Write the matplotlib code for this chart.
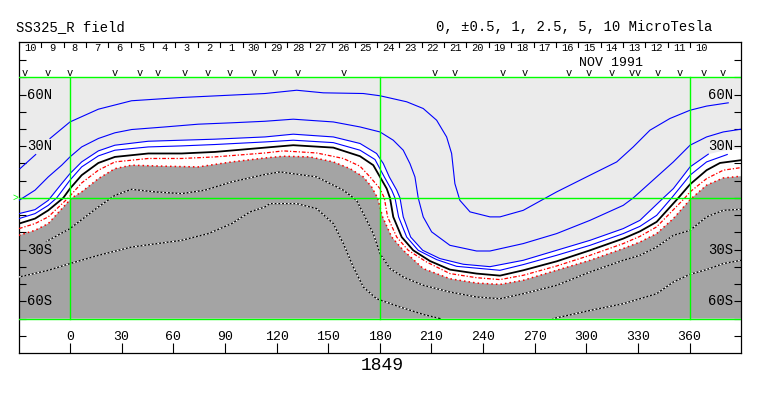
import numpy as np
import matplotlib.pyplot as plt

plt.rcParams['font.family'] = ['Liberation Mono', 'DejaVu Sans Mono']

# source surface field map, Carrington rotation 1849
# each contour: longitude / latitude points
p5a_lon = [-29.0, -19.9]
p5a_lat = [17.0, 25.2]
p5_lon = [-11.6, 0, 16.5, 35.8, 64.9, 113.3, 131.7, 147.2, 170.4, 180.1, 195.6, 205.2, 213.0,
          218.8, 221.7, 223.6, 226.5, 232.4, 244.0, 249.8, 263.3, 282.7, 302.1, 317.6, 327.2,
          336.9, 348.5, 360.2, 369.8, 382.4]
p5_lat = [34.5, 44.1, 51.5, 56.4, 58.3, 60.6, 62.5, 61.0, 60.6, 59.3, 55.8, 51.9, 45.1,
          35.4, 25.8, 8.3, -1.4, -8.1, -11.0, -11.0, -7.2, 3.5, 13.2, 20.9, 29.6,
          39.3, 46.1, 50.9, 53.3, 55.2]

p25_lon = [-29.6, -20.3, -12.6, -4.8, 0, 6.8, 16.5, 26.1, 35.8, 55.2, 74.5, 93.9, 113.3, 129.7,
           153.0, 168.5, 180.1, 187.8, 193.6, 197.5, 200.4, 202.3, 205.2, 210.1, 220.7, 236.2,
           244.0, 263.3, 282.7, 302.1, 321.4, 327.2, 340.8, 350.5, 360.2, 369.8, 379.5, 389.8]
p25_lat = [-1.4, 4.5, 12.2, 19.0, 23.8, 29.6, 34.5, 37.8, 39.7, 41.2, 42.8, 43.6, 44.5, 45.7,
           44.1, 41.2, 38.3, 33.5, 27.7, 19.9, 12.2, 0, -11.0, -19.7, -27.5, -30.8,
           -30.8, -26.5, -20.7, -13.0, -4.3, 0, 12.2, 20.9, 30.6, 35.4, 38.3, 39.9]

p1_lon = [-29.6, -20.3, -12.6, -4.8, 0, 6.8, 16.5, 26.1, 45.5, 64.9, 84.2, 113.3, 129.7, 153.0,
          168.5, 178.1, 182.0, 185.5, 189.8, 191.7, 193.6, 197.9, 204.9, 214.9, 228.5, 244.0,
          263.3, 282.7, 302.1, 321.4, 331.1, 344.7, 350.5, 360.2, 370.8]
p1_lat = [-9.1, -6.8, -1.4, 8.3, 14.1, 20.9, 27.3, 30.6, 32.9, 33.5, 34.1, 35.4, 37.0, 35.4,
          31.6, 25.8, 20.0, 12.2, 4.5, 0, -11.0, -22.7, -30.4, -35.2, -38.5, -39.9,
          -36.2, -30.4, -24.6, -17.8, -13.0, 0, 5.4, 18.0, 25.4]

p05_lon = [-29.6, -20.3, -12.6, -7.7, 0, 6.8, 16.5, 26.1, 45.5, 64.9, 84.2, 113.3, 129.7, 153.0,
           168.5, 177.2, 182.6, 186.9, 188.8, 190.9, 195.6, 202.3, 213.0, 224.6, 249.8,
           263.3, 282.7, 302.1, 321.4, 331.1, 340.8, 349.5, 360.2, 369.8, 381.8]
p05_lat = [-12.0, -9.1, -4.3, 0, 10.3, 18.0, 24.4, 27.7, 29.6, 30.2, 31.0, 32.5, 33.5, 32.1,
           27.7, 22.3, 12.2, 4.5, 0, -11.0, -22.7, -30.4, -35.8, -39.7, -42.0,
           -38.7, -33.3, -27.5, -20.7, -16.5, -10.1, 0, 13.2, 20.9, 25.2]

n0_lon = [-29.6, -20.3, -12.6, -3.9, 0, 6.8, 16.5, 26.1, 45.5, 64.9, 84.2, 113.3, 129.7, 153.0,
          168.5, 176.2, 180.1, 184.0, 185.9, 187.8, 192.7, 199.4, 209.1, 220.7, 236.2, 249.8,
          263.3, 282.7, 302.1, 321.4, 331.1, 340.8, 353.4, 360.2, 369.8, 377.6, 389.8]
n0_lat = [-14.9, -12.0, -7.2, 0, 5.4, 13.2, 20.3, 23.8, 25.8, 25.8, 26.7, 29.2, 30.6, 29.2,
          24.2, 19.0, 12.2, 5.4, 0, -11.0, -22.7, -30.4, -36.6, -41.6, -43.9, -45.1,
          -42.0, -36.8, -30.4, -23.6, -19.4, -13.9, 0, 7.9, 16.1, 20.3, 21.9]

m05_lon = [-29.6, -20.3, -12.6, -1.0, 6.8, 16.5, 26.1, 45.5, 64.9, 84.2, 113.3, 123.9, 143.3,
           158.8, 168.5, 174.3, 180.1, 182.6, 184.5, 189.8, 196.5, 207.2, 220.7, 236.2, 249.8,
           263.3, 282.7, 302.1, 321.4, 331.1, 340.8, 357.2, 360.2, 369.8, 379.5, 389.8]
m05_lat = [-17.8, -14.9, -11.0, 0, 8.7, 16.1, 20.9, 22.9, 22.9, 23.8, 26.1, 27.3, 26.1,
           22.9, 18.4, 12.2, 5.4, 0, -11.0, -22.7, -30.4, -37.2, -43.9, -46.3, -47.4,
           -44.9, -39.5, -33.3, -26.5, -22.3, -16.8, 0, 3.5, 11.2, 16.1, 17.6]

m1_lon = [-29.6, -20.3, -12.6, 1.0, 6.8, 16.5, 26.1, 35.8, 55.2, 74.5, 93.9, 113.3, 123.9, 139.4,
          153.0, 162.7, 170.4, 175.2, 178.7, 181.6, 186.9, 193.6, 205.2, 220.7, 236.2, 249.8,
          263.3, 282.7, 302.1, 321.4, 331.1, 340.8, 350.5, 360.2, 369.8, 379.5, 389.8]
m1_lat = [-21.7, -18.8, -14.9, 0, 3.5, 11.2, 17.0, 19.0, 18.4, 18.0, 20.9, 23.2, 24.2, 23.8,
          20.9, 17.0, 12.2, 6.4, 0, -11.0, -22.7, -30.4, -41.0, -46.9, -49.4, -50.2,
          -47.8, -42.0, -36.2, -29.4, -25.6, -20.7, -12.0, -1.0, 7.4, 11.6, 12.6]

m25_lon = [-13.6, 0, 16.5, 26.1, 35.8, 49.4, 64.9, 78.4, 93.9, 113.3, 122.0, 143.3, 158.8, 166.5,
           171.4, 176.2, 180.1, 185.9, 193.6, 205.2, 220.7, 236.2, 249.8, 263.3, 282.7, 302.1,
           321.4, 331.1, 340.8, 350.5, 360.2, 369.8, 379.5, 389.8]
m25_lat = [-25.2, -17.8, -5.2, 1.5, 5.0, 3.5, 2.5, 4.5, 9.3, 13.6, 15.1, 12.2, 4.5, -1.4,
           -11.0, -20.7, -32.3, -41.0, -45.9, -50.7, -54.6, -57.5, -58.5, -55.6, -50.7, -43.0,
           -36.2, -33.3, -28.5, -21.7, -18.8, -11.0, -7.2, -6.6]

m5a_lon = [-29.6, -12.6, 0, 16.5, 35.8, 64.9, 80.4, 93.9, 104.6, 113.3, 116.2, 131.7, 143.3, 153.0,
           158.8, 164.6, 170.4, 178.1, 191.7, 205.2, 214.9]
m5a_lat = [-45.9, -42.0, -38.1, -33.3, -28.5, -24.6, -20.7, -14.9, -8.1, -5.2, -3.3, -3.3, -6.2, -14.9,
           -26.5, -40.1, -51.7, -58.5, -63.3, -67.6, -70.0]
m5b_lon = [280.8, 302.1, 321.4, 340.8, 350.5, 360.2, 369.8, 379.5, 389.8]
m5b_lat = [-70.0, -65.3, -61.4, -55.6, -48.8, -44.3, -41.6, -38.1, -36.2]

# where the +1 line is not drawn the white band still runs to the edge
white_edge_lon = [380.0, 389.8]
white_edge_lat = [27.5, 28.7]

# marks along the top of the map
obs_lon = [-26.1, -12.6, 0, 26.1, 40.7, 51.3, 66.8, 80.3, 92.9, 106.5, 119.1, 132.6, 158.8,
           212.0, 223.6, 251.7, 264.3, 289.5, 301.1, 314.7, 326.5, 330.0, 341.7, 354.3, 367.9, 379.5]

days = [10, 9, 8, 7, 6, 5, 4, 3, 2, 1, 30, 29, 28, 27, 26, 25, 24, 23, 22, 21, 20, 19, 18,
        17, 16, 15, 14, 13, 12, 11, 10]
lon_ticks = [0, 30, 60, 90, 120, 150, 180, 210, 240, 270, 300, 330, 360]
lat_labels = {60: '60N', 30: '30N', -30: '30S', -60: '60S'}

X0, X1 = -29.6, 389.8
fig = plt.figure(figsize=(7.63, 3.96), dpi=100)
ax = fig.add_axes([19 / 763, 43 / 396, 722 / 763, 311 / 396])
ax.set_xlim(X0, X1)
ax.set_ylim(-90, 90.5)

# backgrounds
ax.fill([X0, X1, X1, X0], [-70, -70, 70, 70], color='#ebebeb', lw=0, zorder=0)
ax.fill(np.r_[p1_lon, white_edge_lon, m1_lon[::-1]],
        np.r_[p1_lat, white_edge_lat, m1_lat[::-1]], color='white', lw=0, zorder=1)
ax.fill(np.r_[m1_lon, X1, X0], np.r_[m1_lat, -70, -70], color='#a4a4a4', lw=0, zorder=1)

blue = '#0000ff'
for lo, la in [(p5a_lon, p5a_lat), (p5_lon, p5_lat), (p25_lon, p25_lat),
               (p1_lon, p1_lat), (p05_lon, p05_lat)]:
    ax.plot(lo, la, color=blue, lw=0.8, zorder=3)
ax.plot(n0_lon, n0_lat, color='black', lw=1.3, zorder=3)
ax.plot(m05_lon, m05_lat, color='#ff0000', lw=0.9, ls=(0, (3, 1.5, 1, 1.5)), zorder=3)
ax.plot(m1_lon, m1_lat, color='#ff0000', lw=1.1, ls=(0, (1, 2)), zorder=3)
for lo, la in [(m25_lon, m25_lat), (m5a_lon, m5a_lat), (m5b_lon, m5b_lat)]:
    ax.plot(lo, la, color='black', lw=0.9, zorder=3)
    ax.plot(lo, la, color='white', lw=0.9, ls=(0, (1.5, 1.5)), zorder=3)

# green grid
green = '#00ff00'
ax.plot([X0, X1], [0, 0], color=green, lw=1, zorder=4)
ax.plot([X0, X1], [70, 70], color=green, lw=1, zorder=4)
ax.plot([X0, X1], [-70, -70], color=green, lw=1, zorder=4)
for g in [0, 180, 360]:
    ax.plot([g, g], [-70, 70], color=green, lw=1, zorder=4)
ax.text(X0 - 0.5, 0, '>', color=green, ha='right', va='center', fontsize=7, clip_on=False)

# axes frame and ticks
for s in ax.spines.values():
    s.set_linewidth(0.9)
ax.set_yticks(np.arange(-80, 81, 10))
ax.set_xticks(lon_ticks)
ax.tick_params(axis='y', direction='in', length=5, width=0.8, left=True, right=True,
               labelleft=False)
ax.tick_params(axis='x', direction='in', length=7, width=0.8, labelbottom=False)

for lat, lab in lat_labels.items():
    ax.text(-25.0, lat, lab, ha='left', va='center', fontsize=10, zorder=5)
    ax.text(385.4, lat, lab, ha='right', va='center', fontsize=10, zorder=5)
for lo in lon_ticks:
    ax.text(lo, -80.5, str(lo), ha='center', va='center', fontsize=9.5)

# day strip across the top
step = 13.0
first = -23.2
for i, d in enumerate(days):
    ax.text(first + i * step, 86.8, str(d), ha='center', va='center', fontsize=7.5)
    ax.plot([first + (i - 0.5) * step] * 2, [87.6, 90.5], color='black', lw=0.8)
ax.text(314.3, 78.4, 'NOV 1991', ha='center', va='center', fontsize=9.5)
for lo in obs_lon:
    ax.text(lo, 72.6, 'v', ha='center', va='center', fontsize=7.5)

fig.text(16 / 763, 1 - 27 / 396, 'SS325_R field', ha='left', va='center', fontsize=10)
fig.text(712 / 763, 1 - 27 / 396, '0, \u00b10.5, 1, 2.5, 5, 10 MicroTesla', ha='right',
         va='center', fontsize=10)
fig.text(382 / 763, 1 - 366 / 396, '1849', ha='center', va='center', fontsize=13)

fig.savefig('out.png', dpi=100)
